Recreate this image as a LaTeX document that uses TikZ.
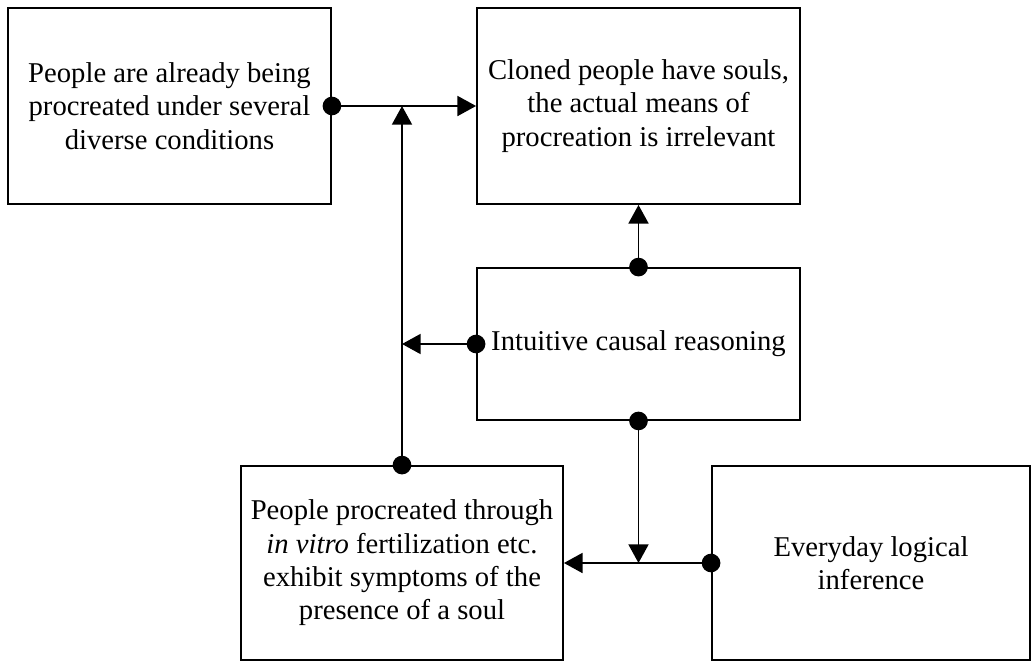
\documentclass[tikz,border=0pt]{standalone}
\usepackage{fontspec}
\setmainfont{Liberation Serif}
\usetikzlibrary{arrows.meta}
\begin{document}
\begin{tikzpicture}[x=0.75pt,y=-0.75pt,
  box/.style={draw, line width=1.4pt, rectangle, align=center, inner sep=0pt,
    font=\fontsize{21.5}{25}\selectfont},
  conn/.style={line width=1.4pt, -{Triangle[length=14pt,width=15pt]}}]
\useasboundingbox (0,0) rectangle (1033,664);

% boxes
\node[box, minimum width=242.25pt, minimum height=147pt] (A) at (169.5,106)
  {People are already being\\procreated under several\\diverse conditions};
\node[box, minimum width=242.25pt, minimum height=147pt] (B) at (638.5,106)
  {Cloned people have souls,\\the actual means of\\procreation is irrelevant};
\node[box, minimum width=242.25pt, minimum height=114pt] (C) at (638.5,344)
  {Intuitive causal reasoning};
\node[box, minimum width=241.5pt, minimum height=145.5pt] (D) at (402,563)
  {People procreated through\\\textit{in vitro} fertilization etc.\\exhibit symptoms of the\\presence of a soul};
\node[box, minimum width=238.5pt, minimum height=145.5pt] (E) at (871,563)
  {Everyday logical\\inference};

% connectors
\coordinate (J1) at (D.north |- A.east);
\coordinate (J2) at (D.north |- C.west);
\coordinate (J3) at (C.south |- E.west);
\draw[conn] (A.east) -- (B.west);
\draw[conn] (D.north) -- (J1);
\draw[conn] (C.west) -- (J2);
\draw[conn] (C.north) -- (B.south);
\draw[conn] (C.south) -- (J3);
\draw[conn] (E.west) -- (D.east);

% source dots
\foreach \p in {A.east, D.north, C.west, C.north, C.south, E.west}
  \fill (\p) circle (7pt);
\end{tikzpicture}
\end{document}
